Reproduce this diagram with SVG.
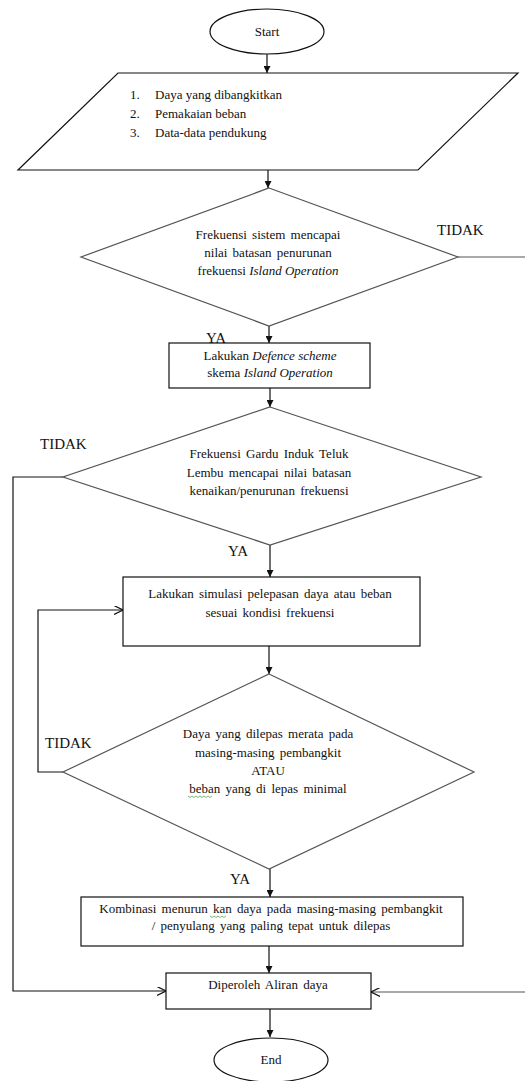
<svg xmlns="http://www.w3.org/2000/svg" width="525" height="1081" viewBox="0 0 525 1081">
<style>
text{font-family:"Liberation Serif","Times New Roman",serif;font-size:13px;fill:#111}
.c{text-anchor:middle}
.lbl{font-size:15px}
.shape{fill:#fff;stroke:#111;stroke-width:1.2}
.dia{fill:#fff;stroke:#555;stroke-width:1.2}
.ln{fill:none;stroke:#111;stroke-width:1.2}
.gr{fill:none;stroke:#555;stroke-width:1.2}
.sq{fill:none;stroke:#5a5;stroke-width:0.8}
</style>
<defs>
<marker id="fa" viewBox="0 0 10 10" refX="10" refY="5" markerWidth="7" markerHeight="7" markerUnits="userSpaceOnUse" orient="auto"><path d="M0,0 L10,5 L0,10 Z" fill="#111"/></marker>
<marker id="oa" viewBox="0 0 10 10" refX="10" refY="5" markerWidth="9" markerHeight="9" markerUnits="userSpaceOnUse" orient="auto"><path d="M0,0 L10,5 L0,10" fill="none" stroke="#111" stroke-width="1.3"/></marker>
</defs>
<rect width="525" height="1081" fill="#fff"/>
<g id="connectors">
<line class="ln" x1="267" y1="54" x2="267" y2="73" marker-end="url(#fa)"/>
<line class="ln" x1="268" y1="170" x2="268" y2="188" marker-end="url(#fa)"/>
<line class="ln" x1="269" y1="326" x2="269" y2="343" marker-end="url(#fa)"/>
<line class="ln" x1="270" y1="388" x2="270" y2="407" marker-end="url(#fa)"/>
<line class="ln" x1="270" y1="545" x2="270" y2="577" marker-end="url(#fa)"/>
<line class="ln" x1="269" y1="646" x2="269" y2="674" marker-end="url(#fa)"/>
<line class="ln" x1="270" y1="869" x2="270" y2="897" marker-end="url(#fa)"/>
<line class="ln" x1="269" y1="946" x2="269" y2="973" marker-end="url(#fa)"/>
<line class="ln" x1="270" y1="1009" x2="270" y2="1037" marker-end="url(#fa)"/>
<path class="gr" d="M458,257 H530 V992 H371" marker-end="url(#oa)"/>
<path class="ln" d="M63,477 H13 V991 H166" marker-end="url(#oa)"/>
<path class="ln" d="M63,772 H38 V610 H123" marker-end="url(#oa)"/>
<text class="lbl" x="437" y="235">TIDAK</text>
<text class="lbl" x="206" y="343">YA</text>
<text class="lbl" x="40" y="449">TIDAK</text>
<text class="lbl" x="228" y="556">YA</text>
<text class="lbl" x="45" y="748">TIDAK</text>
<text class="lbl" x="230" y="884">YA</text>
</g>
<g id="start">
<ellipse class="shape" cx="267" cy="31.5" rx="57" ry="22.5"/>
<text class="c" x="267" y="36">Start</text>
</g>
<g id="input">
<polygon class="shape" points="118,73 518,73 418,170 18,170"/>
<text x="130" y="99">1.</text><text x="155" y="99">Daya yang  dibangkitkan</text>
<text x="130" y="118">2.</text><text x="155" y="118">Pemakaian  beban</text>
<text x="130" y="137">3.</text><text x="155" y="137">Data-data  pendukung</text>
</g>
<g id="decision1">
<polygon class="dia" points="269,188 458,257 269,326 81,257"/>
<text class="c" x="268" y="239" word-spacing="2">Frekuensi sistem mencapai</text>
<text class="c" x="268" y="257" word-spacing="2">nilai batasan penurunan</text>
<text class="c" x="268" y="275">frekuensi <tspan font-style="italic">Island Operation</tspan></text>
</g>
<g id="defence">
<rect class="shape" x="169" y="343" width="201" height="45"/>
<text class="c" x="270" y="360">Lakukan <tspan font-style="italic">Defence scheme</tspan></text>
<text class="c" x="270" y="377">skema <tspan font-style="italic">Island Operation</tspan></text>
</g>
<g id="decision2">
<polygon class="dia" points="270,407 481,477 270,545 63,477"/>
<text class="c" x="269" y="458" word-spacing="2">Frekuensi Gardu Induk Teluk</text>
<text class="c" x="269" y="477" word-spacing="2">Lembu mencapai  nilai batasan</text>
<text class="c" x="269" y="495" word-spacing="2">kenaikan/penurunan  frekuensi</text>
</g>
<g id="simulasi">
<rect class="shape" x="123" y="577" width="297" height="69"/>
<text class="c" x="270" y="598" word-spacing="2">Lakukan simulasi  pelepasan  daya atau  beban</text>
<text class="c" x="270" y="617" word-spacing="2">sesuai kondisi  frekuensi</text>
</g>
<g id="decision3">
<polygon class="dia" points="269,674 474,772 269,869 63,772"/>
<text class="c" x="268" y="738" word-spacing="2">Daya yang dilepas merata pada</text>
<text class="c" x="268" y="757" word-spacing="2">masing-masing  pembangkit</text>
<text class="c" x="268" y="775">ATAU</text>
<text class="c" x="268" y="793" word-spacing="2">beban yang di lepas minimal</text>
<path class="sq" d="M188,796 l2,1.5 l2,-1.5 l2,1.5 l2,-1.5 l2,1.5 l2,-1.5 l2,1.5 l2,-1.5 l2,1.5 l2,-1.5 l2,1.5 l2,-1.5"/>
</g>
<g id="kombinasi">
<rect class="shape" x="81" y="897" width="382" height="49"/>
<text class="c" x="271" y="913" word-spacing="2">Kombinasi  menurun kan daya pada masing-masing  pembangkit</text>
<text class="c" x="271" y="930" word-spacing="2">/ penyulang  yang  paling  tepat  untuk  dilepas</text>
<path class="sq" d="M210,916 l2,1.5 l2,-1.5 l2,1.5 l2,-1.5 l2,1.5 l2,-1.5 l2,1.5 l2,-1.5"/>
</g>
<g id="aliran">
<rect class="shape" x="166" y="973" width="205" height="36"/>
<text class="c" x="268" y="989" word-spacing="2">Diperoleh  Aliran daya</text>
</g>
<g id="end">
<ellipse class="shape" cx="271" cy="1060" rx="57" ry="22"/>
<text class="c" x="271" y="1064">End</text>
</g>
</svg>
